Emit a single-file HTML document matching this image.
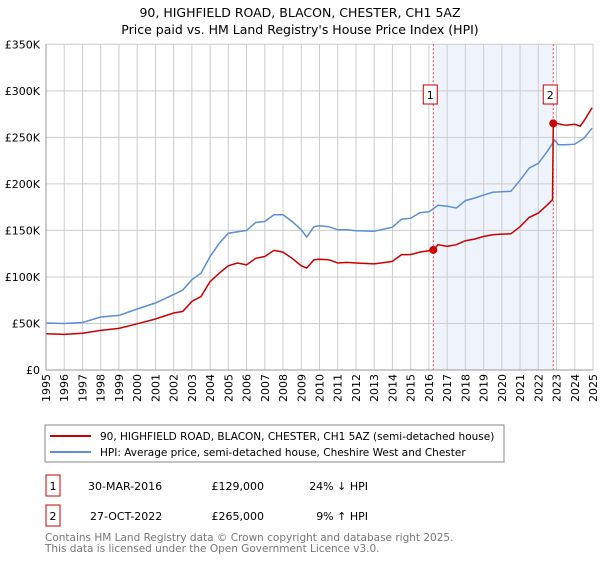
<!DOCTYPE html>
<html><head><meta charset="utf-8"><style>
body{margin:0;background:#fff;font-family:"Liberation Sans","DejaVu Sans",sans-serif;}
svg text{font-family:"DejaVu Sans","Liberation Sans",sans-serif;}
</style></head><body>
<svg id="c" width="600" height="560" viewBox="0 0 600 560" xmlns="http://www.w3.org/2000/svg">
<text x="300" y="17" text-anchor="middle" font-size="12.5">90, HIGHFIELD ROAD, BLACON, CHESTER, CH1 5AZ</text>
<text x="300" y="34" text-anchor="middle" font-size="12.5">Price paid vs. HM Land Registry's House Price Index (HPI)</text>
<g id="plot"></g>
<rect x="45" y="425" width="459" height="37" fill="#fff" stroke="#888"/>
<line x1="50" y1="436" x2="91" y2="436" stroke="#cc0000" stroke-width="2"/>
<text x="100" y="440" font-size="10.5">90, HIGHFIELD ROAD, BLACON, CHESTER, CH1 5AZ (semi-detached house)</text>
<line x1="50" y1="452" x2="91" y2="452" stroke="#5b8fd6" stroke-width="2"/>
<text x="100" y="456" font-size="10.5">HPI: Average price, semi-detached house, Cheshire West and Chester</text>
<rect x="46" y="475" width="14" height="21" fill="#fff" stroke="#cc0000"/>
<text x="53" y="490" text-anchor="middle" font-size="11">1</text>
<text x="88" y="490" font-size="11">30-MAR-2016</text>
<text x="264" y="490" text-anchor="end" font-size="11">£129,000</text>
<text x="368" y="490" text-anchor="end" font-size="11">24% ↓ HPI</text>
<rect x="46" y="505" width="14" height="21" fill="#fff" stroke="#cc0000"/>
<text x="53" y="520" text-anchor="middle" font-size="11">2</text>
<text x="90" y="520" font-size="11">27-OCT-2022</text>
<text x="264" y="520" text-anchor="end" font-size="11">£265,000</text>
<text x="368" y="520" text-anchor="end" font-size="11">9% ↑ HPI</text>
<text x="45" y="541" font-size="10.5" fill="#777">Contains HM Land Registry data © Crown copyright and database right 2025.</text>
<text x="45" y="552" font-size="10.5" fill="#777">This data is licensed under the Open Government Licence v3.0.</text>
</svg>
<script>
const yTicks=[0,50,100,150,200,250,300,350];
const yTickLabels=["£0","£50K","£100K","£150K","£200K","£250K","£300K","£350K"];
const xYears=[1995,1996,1997,1998,1999,2000,2001,2002,2003,2004,2005,2006,2007,2008,2009,2010,2011,2012,2013,2014,2015,2016,2017,2018,2019,2020,2021,2022,2023,2024,2025];
const hpiT=[1995,1996,1997,1998,1999,2000,2001,2002,2002.5,2003,2003.5,2004,2004.5,2005,2006,2006.5,2007,2007.5,2008,2008.5,2009,2009.3,2009.7,2010,2010.5,2011,2011.5,2012,2013,2014,2014.5,2015,2015.5,2016,2016.5,2017,2017.5,2018,2018.5,2019,2019.5,2020,2020.5,2021,2021.5,2022,2022.5,2022.9,2023.1,2023.5,2024,2024.5,2024.95];
const hpiV=[50.5,50,51,57,58.7,65.5,72,81,86,97,104,122,136,147,150,158.5,159.6,166.8,166.8,159.6,150.7,142.8,154,155,154,150.7,150.7,149.6,149,153.5,162,163,169,170,177,176,174,182,184.7,188,191,191.5,192,204,217,222,235,247,242,242,242.6,249,260];
const redT=[1995,1996,1997,1998,1999,2000,2001,2002,2002.5,2003,2003.5,2004,2004.5,2005,2005.5,2006,2006.5,2007,2007.5,2008,2008.5,2009,2009.3,2009.7,2010,2010.5,2011,2011.5,2012,2013,2014,2014.5,2015,2015.5,2016.24,2016.5,2017,2017.5,2018,2018.5,2019,2019.5,2020,2020.5,2021,2021.5,2022,2022.5,2022.78,2022.82,2023,2023.5,2024,2024.3,2024.6,2024.95];
const redV=[39,38.3,39.4,42.6,44.7,49.7,54.8,61.2,63,73.7,79,95,104,112,115,113,120,122,128.5,126.7,120,112,109.5,118.5,119,118.5,115,115.6,115,114,116.7,124,124,126.7,129,134.6,132.8,134.6,138.9,140.7,143.5,145.3,146,146.4,154,164,168.6,177.5,183,265,265,263,264,262,270.6,282];
const saleT=[2016.24,2022.82];
const saleV=[129,265];
const saleLabels=["1","2"];
const NS="http://www.w3.org/2000/svg";
const L=46,R=593,T=44.3,B=370;
const X=t=>L+(t-1995)/30*(R-L);
const Y=v=>B-v/350*(B-T);
const g=document.getElementById('plot');
function mk(tag,attrs,parent){const e=document.createElementNS(NS,tag);for(const k in attrs)e.setAttribute(k,attrs[k]);(parent||g).appendChild(e);return e;}
let e=mk('rect',{x:X(saleT[0]),y:T,width:X(saleT[1])-X(saleT[0]),height:B-T,fill:'#eef3fc'});


xYears.forEach(y=>{const l=mk('line',{x1:X(y),x2:X(y),y1:T,y2:B,stroke:'#cccccc','stroke-width':1});


const x=X(y)+4;
const t=mk('text',{x:x,y:374,'text-anchor':'end','font-size':11,transform:'rotate(-90 '+x+' 374)'});t.textContent=y;

});
yTicks.forEach((v,i)=>{const l=mk('line',{x1:L,x2:R,y1:Y(v),y2:Y(v),stroke:'#cccccc','stroke-width':1});


const t=mk('text',{x:40,y:Y(v)+4,'text-anchor':'end','font-size':11});t.textContent=yTickLabels[i];

});
saleT.forEach((t,i)=>{const l=mk('line',{x1:X(t),x2:X(t),y1:T,y2:B,stroke:'#e04040','stroke-dasharray':'2,2','stroke-width':1});


const b=mk('rect',{x:X(t)-10,y:85,width:14,height:19,fill:'#fff',stroke:'#cc0000'});


const tx=mk('text',{x:X(t)-3,y:99,'text-anchor':'middle','font-size':11});tx.textContent=saleLabels[i];

});
const pts=(ts,vs)=>ts.map((t,i)=>X(t).toFixed(1)+','+Y(vs[i]).toFixed(1)).join(' ');
e=mk('polyline',{points:pts(hpiT,hpiV),fill:'none',stroke:'#5b8fd6','stroke-width':1.5});


e=mk('polyline',{points:pts(redT,redV),fill:'none',stroke:'#cc0000','stroke-width':1.5});


saleT.forEach((t,i)=>{const c=mk('circle',{cx:X(t),cy:Y(saleV[i]),r:4,fill:'#cc0000'});

});
e=mk('line',{x1:L,x2:L,y1:T,y2:B,stroke:'#999'});


e=mk('line',{x1:L,x2:R,y1:B,y2:B,stroke:'#999'});


</script>
</body></html>
